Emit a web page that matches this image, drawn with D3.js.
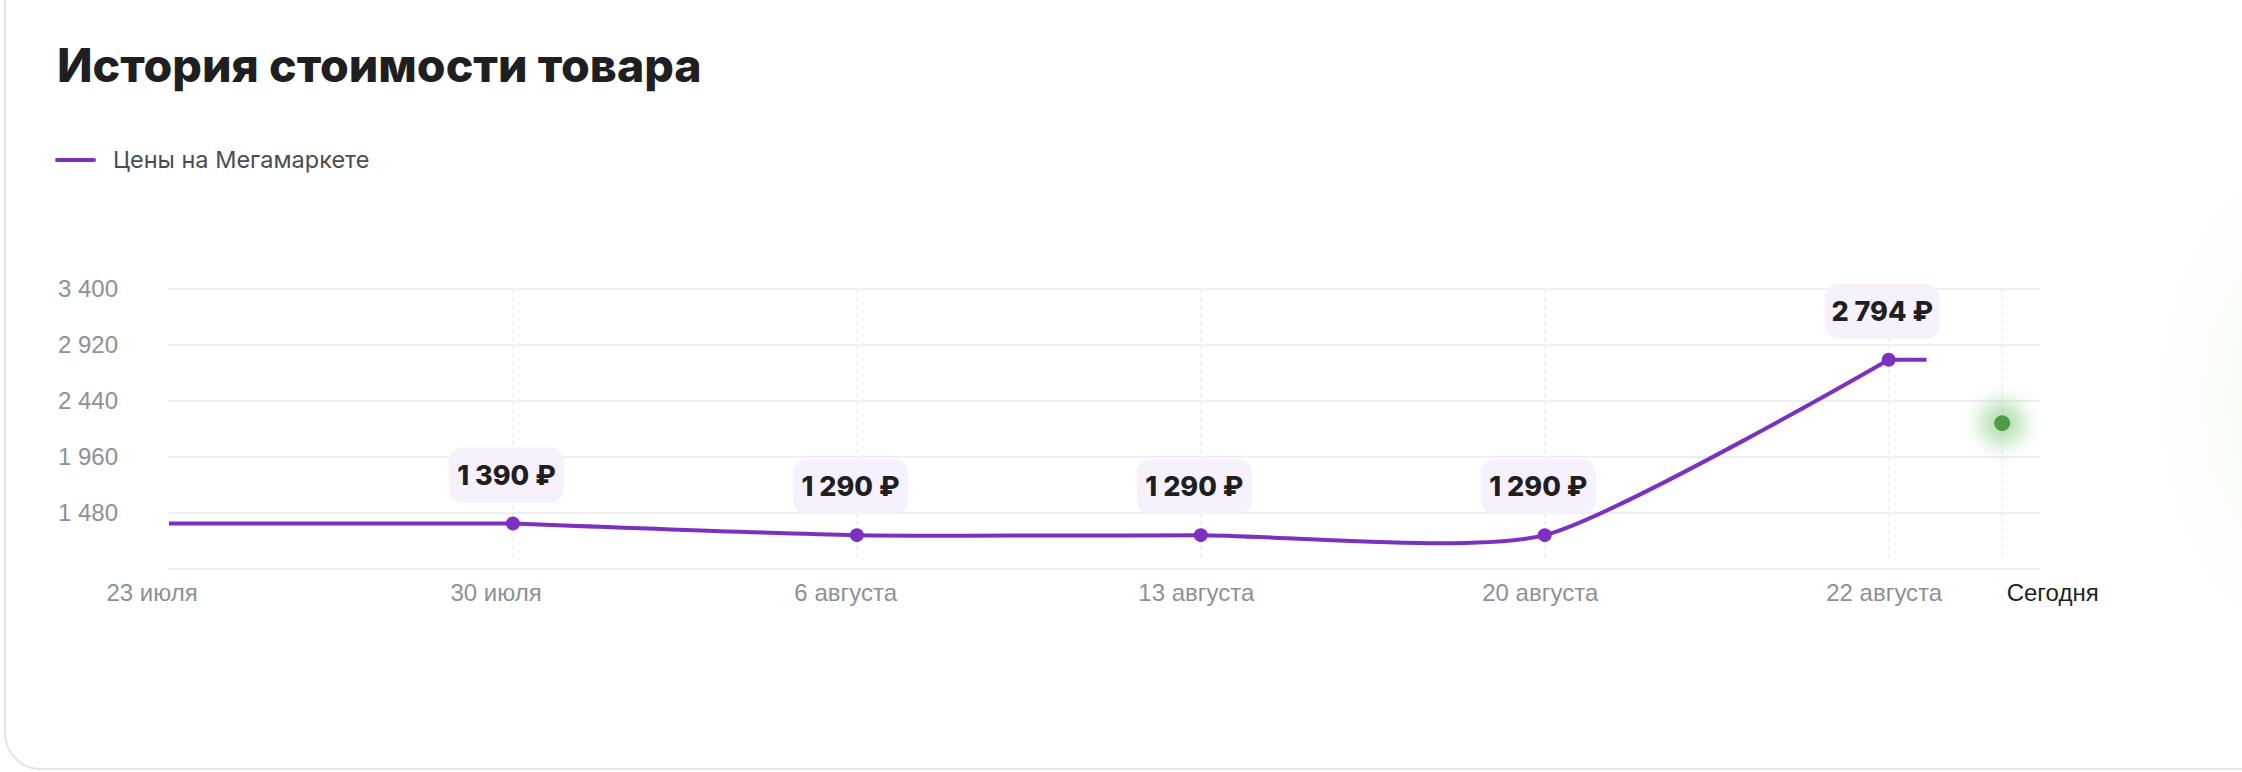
<!DOCTYPE html>
<html>
<head>
<meta charset="utf-8">
<script src="https://cdn.jsdelivr.net/npm/d3@7"></script>
<style>
  html, body { margin: 0; padding: 0; background: #fff; }
  svg { display: block; font-family: Inter, "Noto Sans", sans-serif; }
</style>
</head>
<body>
<svg class="price-svg" width="2242" height="772"></svg>
<script>
// chart data
var dateLabels = ["23 июля", "30 июля", "6 августа", "13 августа", "20 августа", "22 августа"]
var dateSlots = [0, 1, 2, 3, 4, 5]
var priceSlots = [1, 2, 3, 4, 5]
var prices = [1390, 1290, 1290, 1290, 2794]
var headSlot = 0
var tailSlot = 5.11
var todayLabel = "Сегодня"
var todaySlot = 5.33
var todayPrice = 2250
var yTicks = [1480, 1960, 2440, 2920, 3400]
var yMin = 1000, yMax = 3400
var seriesName = "Цены на Мегамаркете"
var title = "История стоимости товара"

var purple = "#7b30bf"
var margin = {left: 169, right: 202, top: 289, bottom: 203}
var width = 2242, height = 772

var ru = d3.formatLocale({decimal: ",", thousands: "\u00a0", grouping: [3], currency: ["", "\u00a0₽"]})
var fmt = ru.format(",d")

var svg = d3.select(".price-svg")
var defs = svg.append("defs")

// soft green glow at the right edge of the card
var edge = defs.append("radialGradient").attr("id", "edge-glow")
edge.append("stop").attr("offset", "0%").attr("stop-color", "#e6f7dd").attr("stop-opacity", 0.75)
edge.append("stop").attr("offset", "100%").attr("stop-color", "#ffffff").attr("stop-opacity", 0)
svg.append("ellipse")
  .attr("cx", 2290).attr("cy", 400).attr("rx", 170).attr("ry", 300)
  .attr("fill", "url(#edge-glow)")

defs.append("filter").attr("id", "blur").attr("x", "-100%").attr("y", "-100%").attr("width", "300%").attr("height", "300%")
  .append("feGaussianBlur").attr("stdDeviation", 10)

// card outline
svg.append("rect")
  .attr("x", 5).attr("y", -60).attr("width", 2400).attr("height", 829)
  .attr("rx", 36)
  .attr("fill", "none").attr("stroke", "#e3e5e9").attr("stroke-width", 2)

svg.append("text")
  .attr("x", 57).attr("y", 82)
  .attr("font-size", "46.5px").attr("font-weight", 800).attr("fill", "#1f1f22")
  .text(title)

var legend = svg.append("g").attr("transform", "translate(57, 160)")
legend.append("line")
  .attr("x1", 0).attr("x2", 37)
  .attr("stroke", purple).attr("stroke-width", 4).attr("stroke-linecap", "round")
legend.append("text")
  .attr("x", 56).attr("dy", "0.36em")
  .attr("font-size", "23.5px").attr("fill", "#4a4c52")
  .text(seriesName)

var xScale = d3.scaleLinear()
  .domain([0, 5.44])
  .range([margin.left, width - margin.right])

var yScale = d3.scaleLinear()
  .domain([yMin, yMax])
  .range([height - margin.bottom, margin.top])

var chart = svg.append("g").attr("class", "chart-group")

// horizontal grid
chart.append("g")
  .selectAll("line")
  .data([yMin].concat(yTicks))
  .enter().append("line")
  .attr("x1", xScale.range()[0]).attr("x2", xScale.range()[1])
  .attr("y1", d => yScale(d)).attr("y2", d => yScale(d))
  .attr("stroke", "#eeeff1").attr("stroke-width", 2)

// vertical dashed grid
chart.append("g")
  .selectAll("line")
  .data(dateSlots.slice(1).concat([todaySlot]))
  .enter().append("line")
  .attr("x1", d => xScale(d)).attr("x2", d => xScale(d))
  .attr("y1", yScale(yMax)).attr("y2", yScale(yMin) - 12)
  .attr("stroke", "#ebecee").attr("stroke-width", 1.5)
  .attr("stroke-dasharray", "4 4")

var yAxis = chart.append("g")
  .attr("class", "y axis")
  .attr("transform", "translate(" + margin.left + ",0)")
  .call(d3.axisLeft(yScale).tickValues(yTicks).tickFormat(fmt).tickSize(0).tickPadding(51))
yAxis.select(".domain").remove()
yAxis.selectAll("text")
  .attr("font-size", "24px").attr("fill", "#8c9198").attr("font-family", null)

var xAxis = chart.append("g")
  .attr("class", "x axis")
  .attr("transform", "translate(0," + yScale(yMin) + ")")
  .call(d3.axisBottom(xScale).tickValues(dateSlots.concat([todaySlot]))
    .tickFormat((d, i) => i < dateLabels.length ? dateLabels[i] : todayLabel).tickSize(0))
xAxis.select(".domain").remove()
xAxis.selectAll("text")
  .attr("text-anchor", "start")
  .attr("x", (d, i) => i < dateLabels.length ? -63 : 4)
  .attr("y", 32).attr("dy", 0)
  .attr("font-size", "24px").attr("font-family", null)
  .attr("fill", (d, i) => i < dateLabels.length ? "#8c9198" : "#1f1f22")

// price line: smooth between the dated points, flat lead-in and tail
var points = priceSlots.map((s, i) => ({slot: s, price: prices[i]}))
var first = points[0], last = points[points.length - 1]

chart.append("path")
  .datum(points)
  .attr("d", d3.line()
    .x(d => xScale(d.slot))
    .y(d => yScale(d.price))
    .curve(d3.curveCardinal.tension(0.38)))
  .attr("fill", "none").attr("stroke", purple).attr("stroke-width", 4)

var straight = d3.line().x(d => xScale(d.slot)).y(d => yScale(d.price))
chart.append("g")
  .selectAll("path")
  .data([[{slot: headSlot, price: first.price}, first], [last, {slot: tailSlot, price: last.price}]])
  .enter().append("path")
  .attr("d", straight)
  .attr("fill", "none").attr("stroke", purple).attr("stroke-width", 4)

var badges = chart.append("g")
  .selectAll("g")
  .data(points)
  .enter().append("g")
  .attr("transform", d => "translate(" + xScale(d.slot) + "," + yScale(d.price) + ")")

badges.append("rect")
  .attr("x", -64).attr("y", -76)
  .attr("width", 115).attr("height", 55).attr("rx", 14)
  .attr("fill", "#f6f1fc")

badges.append("text")
  .attr("x", -6.5).attr("y", -48.5).attr("dy", "0.36em")
  .attr("text-anchor", "middle")
  .attr("font-size", "27px").attr("font-weight", 800).attr("fill", "#1f1f22")
  .text(d => fmt(d.price) + "\u00a0₽")

chart.append("g")
  .selectAll("circle")
  .data(points)
  .enter().append("circle")
  .attr("cx", d => xScale(d.slot)).attr("cy", d => yScale(d.price))
  .attr("r", 7).attr("fill", purple)

// today marker
chart.append("circle")
  .attr("cx", xScale(todaySlot)).attr("cy", yScale(todayPrice))
  .attr("r", 22).attr("fill", "#5cb85a").attr("opacity", 0.45)
  .attr("filter", "url(#blur)")
chart.append("circle")
  .attr("cx", xScale(todaySlot)).attr("cy", yScale(todayPrice))
  .attr("r", 8).attr("fill", "#4c9e46")
</script>
</body>
</html>
